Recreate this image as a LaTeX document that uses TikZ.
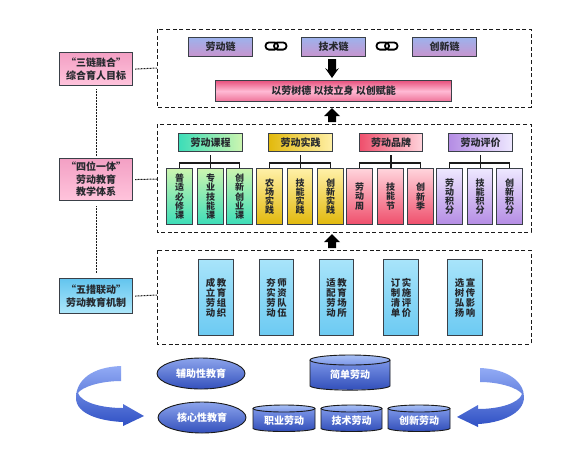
\documentclass[tikz,border=0pt]{standalone}
\usepackage{fontspec}
\setmainfont{Noto Sans CJK SC}
\usetikzlibrary{shapes.geometric,arrows.meta,calc}
\lineskiplimit=-100pt
\normallineskiplimit=-100pt
\definecolor{bd}{HTML}{3A4048}
\definecolor{tx}{HTML}{26292E}
\definecolor{ln}{HTML}{1A1A1A}
\newcommand{\vt}[1]{\vbox{\fontsize{9}{9.3}\selectfont\let\\\cr\halign{\hfil##\hfil\cr#1\crcr}}}
\newcommand{\vtb}[1]{\vbox{\fontsize{9.4}{9.95}\selectfont\let\\\cr\halign{\hfil##\hfil\cr#1\crcr}}}
\definecolor{f3a0c4}{HTML}{F3A0C4}
\definecolor{ffc4dc}{HTML}{FFC4DC}
\definecolor{bl1}{HTML}{8CA4EC}
\definecolor{bl2}{HTML}{5574D8}
\definecolor{bl3}{HTML}{3350BC}
\definecolor{cy1}{HTML}{A8C0F4}
\definecolor{cy2}{HTML}{7C96E8}
\definecolor{cy3}{HTML}{2F4CB8}
\tikzset{
 x=1pt,y=-1pt,
 base/.style={draw=bd,line width=1.1pt,inner sep=0pt,text=tx,align=center,font=\fontsize{10}{12.5}\selectfont\bfseries},
 dashbox/.style={draw=ln,line width=.9pt,dash pattern=on 4pt off 2.6pt},
 dots/.style={draw=ln,line width=1pt,dash pattern=on .9pt off .6pt},
 tree/.style={draw=ln,line width=1.2pt},
 bluefill/.style={top color=bl1,middle color=bl2,bottom color=bl3},
 wtext/.style={text=white,font=\fontsize{10}{11}\selectfont\bfseries},
}
\newcommand{\bx}[7]{\node[base,minimum width=#4pt-#2pt,minimum height=#5pt-#3pt,anchor=north west,#6] (#1) at (#2,#3) {#7};}
\newcommand{\cyl}[7]{%
 \shade[top color=cy2,bottom color=cy3] (#2,#3+#6) -- (#2,#5-#6) .. controls (#2,#5) and (#4,#5) .. (#4,#5-#6) -- (#4,#3+#6) -- cycle;
 \draw[ln,line width=.9pt] (#2,#3+#6) -- (#2,#5-#6) .. controls (#2+5,#5+.5) and (#4-5,#5+.5) .. (#4,#5-#6) -- (#4,#3+#6);
 \path[top color=cy1,bottom color=cy2,draw=ln,line width=.9pt] ({(#2+#4)/2},#3+#6) ellipse ({(#4-#2)/2} and #6);
 \node[wtext,inner sep=0pt] (#1) at ({(#2+#4)/2},{(#3+#5)/2+2}) {#7};}
\newcommand{\chainlink}[2]{%
 \draw[black,line width=1.8pt,rounded corners=3.4pt] (#1-10.5,#2-3.6) rectangle (#1+2,#2+3.6);
 \draw[black,line width=1.8pt,rounded corners=3.4pt] (#1-2,#2-3.6) rectangle (#1+10.5,#2+3.6);}
\begin{document}
\begin{tikzpicture}
\useasboundingbox (0,0) rectangle (583,459);
\fill[white] (0,0) rectangle (583,459);
% dashed frames
\draw[dashbox] (157,29) rectangle (531,107);
\draw[dashbox] (157,124) rectangle (531,232);
\draw[dashbox] (157,250) rectangle (531,344);
\coordinate (fa) at (157,68);
\coordinate (fb) at (157,179);
\coordinate (fc) at (157,295);
% left labels
\bx{la}{59}{52}{132}{85}{top color=f3a0c4,bottom color=ffc4dc}{“三链融合”\\综合育人目标}
\bx{lb}{59}{158}{132}{200}{top color=f3a0c4,bottom color=ffc4dc}{“四位一体”\\劳动教育\\教学体系}
\definecolor{lbl1}{HTML}{63C4EE}\definecolor{lbl2}{HTML}{AEE8FB}
\bx{lc}{59}{278}{132}{313}{top color=lbl1,bottom color=lbl2}{“五措联动”\\劳动教育机制}
\draw[dots] ($(la.east)+(2,0)$) -- (fa);
\draw[dots] ($(lb.east)+(2,0)$) -- (fb);
\draw[dots] ($(lc.east)+(2,0)$) -- (fc);
\draw[dots] ($(la.south)+(0,3)$) -- ($(lb.north)+(0,-2)$);
\draw[dots] ($(lb.south)+(0,5)$) -- ($(lc.north)+(0,-5)$);
% chains
\definecolor{ch1}{HTML}{9DB2EC}\definecolor{ch2}{HTML}{C894CE}
\bx{c1}{188}{37}{252}{56}{top color=ch1,bottom color=ch2}{劳动链}
\bx{c2}{301}{37}{365}{56}{top color=ch1,bottom color=ch2}{技术链}
\bx{c3}{412}{37}{476}{56}{top color=ch1,bottom color=ch2}{创新链}
\chainlink{276}{46}
\chainlink{387}{46}
\definecolor{sl1}{HTML}{E8527E}\definecolor{sl2}{HTML}{FFBAD4}
\bx{sl}{215}{80}{451}{101}{top color=sl1,bottom color=sl1!70!sl2,middle color=sl2}{以劳树德 以技立身 以创赋能}
% down arrow
\fill[black] (328,59) -- (336,59) -- (336,70) -- (339,68) -- (332,78) -- (325,68) -- (328,70) -- cycle;
% up arrows
\fill[black] (332,108) -- (340,116) -- (336,116) -- (336,122) -- (328,122) -- (328,116) -- (324,116) -- cycle;
\fill[black] (332,234) -- (340,242) -- (336,242) -- (336,248) -- (328,248) -- (328,242) -- (324,242) -- cycle;
% group headers
\definecolor{ga}{HTML}{3CDDB8}\definecolor{gb}{HTML}{CDF5B0}
\definecolor{ya}{HTML}{E2B90C}\definecolor{yb}{HTML}{FFF0A8}
\definecolor{ra}{HTML}{EF4F6C}\definecolor{rb}{HTML}{FFD4DC}
\definecolor{pa}{HTML}{B48CE4}\definecolor{pb}{HTML}{EEE8FF}
\bx{h1}{178}{133}{242}{151}{left color=ga,right color=gb}{劳动课程}
\bx{h2}{268}{133}{332}{151}{left color=ya,right color=yb}{劳动实践}
\bx{h3}{359}{133}{422}{151}{left color=ra,right color=rb}{劳动品牌}
\bx{h4}{448}{133}{512}{151}{left color=pa,right color=pb}{劳动评价}
% sub boxes
\bx{s1}{166}{168}{192}{224}{top color=gb,bottom color=ga}{\vt{普\\适\\必\\修\\课}}
\bx{s2}{197}{168}{223}{224}{top color=gb,bottom color=ga}{\vt{专\\业\\技\\能\\课}}
\bx{s3}{226}{168}{252}{224}{top color=gb,bottom color=ga}{\vt{创\\新\\创\\业\\课}}
\bx{s4}{256}{168}{282}{224}{top color=yb,bottom color=ya}{\vt{农\\场\\实\\践}}
\bx{s5}{287}{168}{312}{224}{top color=yb,bottom color=ya}{\vt{技\\能\\实\\践}}
\bx{s6}{317}{168}{343}{224}{top color=yb,bottom color=ya}{\vt{创\\新\\实\\践}}
\bx{s7}{346}{168}{372}{224}{top color=rb,bottom color=ra}{\vt{劳\\动\\周}}
\bx{s8}{377}{168}{403}{224}{top color=rb,bottom color=ra}{\vt{技\\能\\节}}
\bx{s9}{407}{168}{433}{224}{top color=rb,bottom color=ra}{\vt{创\\新\\季}}
\bx{s10}{436}{168}{462}{224}{top color=pb,bottom color=pa}{\vt{劳\\动\\积\\分}}
\bx{s11}{467}{168}{492}{224}{top color=pb,bottom color=pa}{\vt{技\\能\\积\\分}}
\bx{s12}{496}{168}{522}{224}{top color=pb,bottom color=pa}{\vt{创\\新\\积\\分}}
% trees
\foreach \h/\a/\b/\c in {h1/s1/s2/s3,h2/s4/s5/s6,h3/s7/s8/s9,h4/s10/s11/s12}{
 \draw[tree] ($(\h.south)+(0,3)$) -- (\h.south |- \b.north);
 \draw[tree] (\a.north) -- ++(0,-5) -| (\c.north);
}
% blue boxes
\definecolor{b1}{HTML}{A8E4FA}\definecolor{b2}{HTML}{6CCAF2}
\bx{m1}{198}{259}{233}{335}{top color=b1,bottom color=b2}{\vtb{成\\立\\劳\\动}\hspace{1.6pt}\vtb{教\\育\\组\\织}}
\bx{m2}{259}{259}{293}{335}{top color=b1,bottom color=b2}{\vtb{夯\\实\\劳\\动}\hspace{1.6pt}\vtb{师\\资\\队\\伍}}
\bx{m3}{319}{259}{353}{335}{top color=b1,bottom color=b2}{\vtb{适\\配\\劳\\动}\hspace{1.6pt}\vtb{教\\育\\场\\所}}
\bx{m4}{383}{259}{418}{335}{top color=b1,bottom color=b2}{\vtb{订\\制\\清\\单}\hspace{1.6pt}\vtb{实\\施\\评\\价}}
\bx{m5}{447}{259}{482}{335}{top color=b1,bottom color=b2}{\vtb{选\\树\\弘\\扬}\hspace{1.6pt}\vtb{宣\\传\\影\\响}}
% ellipses
\node[ellipse,draw=ln,line width=.9pt,minimum width=88pt,minimum height=31pt,inner sep=0pt,bluefill,wtext] (e1) at (201,373.5) {辅助性教育};
\node[ellipse,draw=ln,line width=.9pt,minimum width=88pt,minimum height=31pt,inner sep=0pt,bluefill,wtext] (e2) at (202,417.5) {核心性教育};
% cylinders
\cyl{d1}{310}{355}{390}{391}{5}{简单劳动}
\cyl{d2}{253}{405}{315}{432}{3.5}{职业劳动}
\cyl{d3}{321}{405}{382}{432}{3.5}{技术劳动}
\cyl{d4}{388}{405}{450}{432}{3.5}{创新劳动}
% curved arrows
\definecolor{ar1}{HTML}{92ABF5}\definecolor{ar2}{HTML}{2F50C4}
\shade[top color=ar1,bottom color=ar2]
 (121,366) .. controls (92,367) and (76,380) .. (76,398) .. controls (76,414) and (100,421) .. (123,422)
 -- (123,426) -- (144,416) -- (123,404) -- (123,408) .. controls (100,408) and (81,402) .. (78,393) .. controls (82,387) and (100,381) .. (121,381) -- cycle;
\shade[top color=ar1,bottom color=ar2]
 (480,368) .. controls (508,369) and (524,382) .. (524,397) .. controls (524,414) and (500,423) .. (478,424)
 -- (478,427) -- (457,417) -- (478,405) -- (478,409) .. controls (500,409) and (519,403) .. (522,394) .. controls (518,388) and (500,382) .. (480,382) -- cycle;
\end{tikzpicture}
\end{document}
